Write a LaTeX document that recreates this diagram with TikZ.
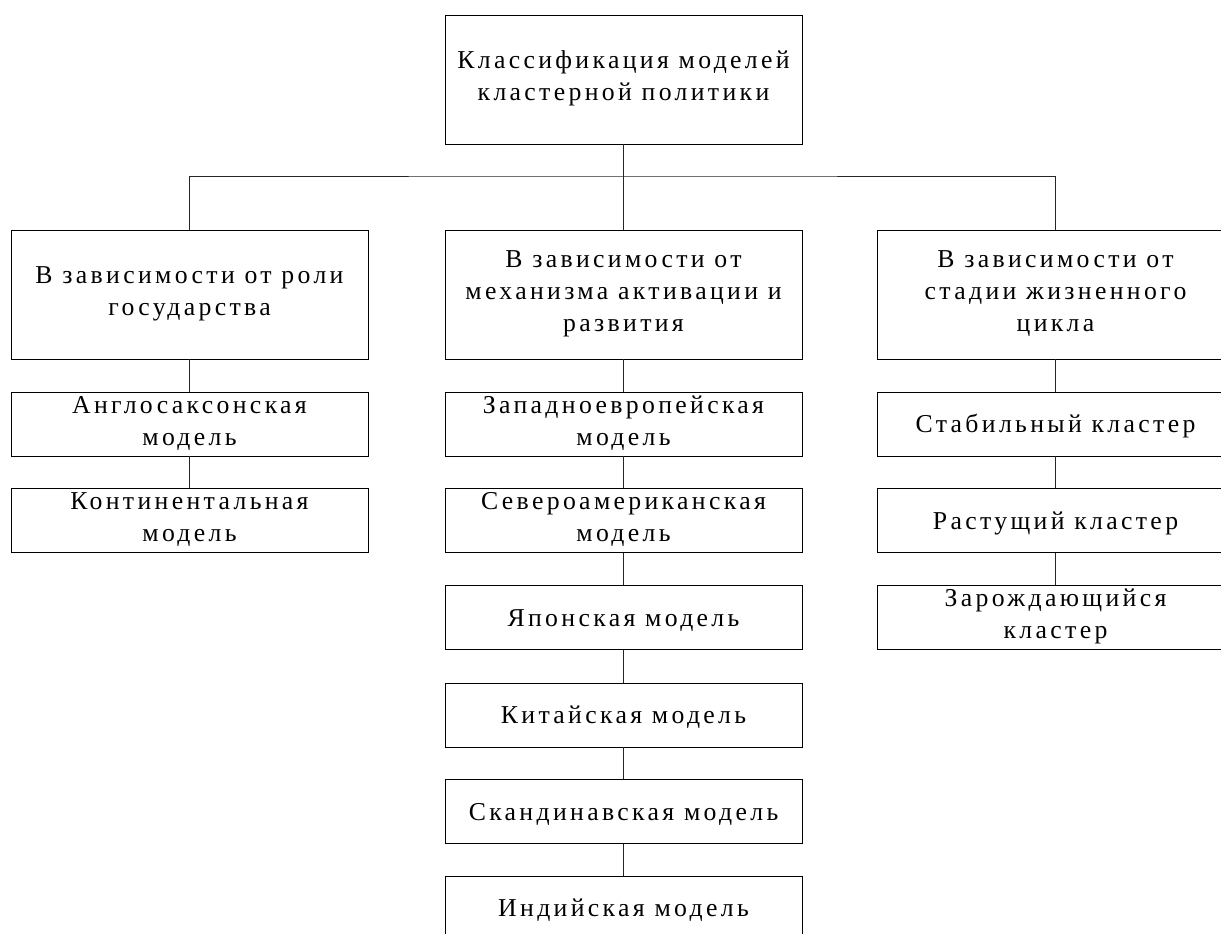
\documentclass[tikz,border=0pt]{standalone}
\usepackage{fontspec}
\setmainfont{Liberation Serif}[LetterSpace=13]
\begin{document}
\begin{tikzpicture}[x=0.75pt,y=-0.75pt,
  box/.style={draw=black, line width=0.7pt, fill=white, inner sep=0pt, align=center,
    minimum width=267.75pt, font=\fontsize{19.3}{24}\selectfont,
    execute at begin node={\rule{0pt}{18pt}},
    execute at end node={\rule[-5.25pt]{0pt}{0pt}}},
  bigbox/.style={box, minimum height=96.75pt},
  smallbox/.style={box, minimum height=48pt},
  link/.style={draw=black!85, line width=0.7pt}]
\useasboundingbox (0,0) rectangle (1221,933);
\clip (0,0) rectangle (1221,933);
\node[bigbox] (top) at (623.5,79.5) {Классификация моделей\\кластерной политики};
\node[bigbox] (L1) at (189.5,294.5) {В зависимости от роли\\государства};
\node[bigbox] (M1) at (623.5,294.5) {В зависимости от\\механизма активации и\\развития};
\node[bigbox] (R1) at (1055.5,294.5) {В зависимости от\\стадии жизненного\\цикла};
\coordinate (hub) at (623.5,176);
% left column
\node[smallbox] (L2) at (189.5,424) {Англосаксонская\\модель};
\node[smallbox] (L3) at (189.5,520.5) {Континентальная\\модель};
% middle column
\node[smallbox] (M2) at (623.5,424) {Западноевропейская\\модель};
\node[smallbox] (M3) at (623.5,520.5) {Североамериканская\\модель};
\node[smallbox] (M4) at (623.5,617.5) {Японская модель};
\node[smallbox] (M5) at (623.5,715) {Китайская модель};
\node[smallbox] (M6) at (623.5,811.5) {Скандинавская модель};
\node[smallbox] (M7) at (623.5,908) {Индийская модель};
% right column
\node[smallbox] (R2) at (1055.5,424) {Стабильный кластер};
\node[smallbox] (R3) at (1055.5,520.5) {Растущий кластер};
\node[smallbox] (R4) at (1055.5,617.5) {Зарождающийся\\кластер};
% connectors
\draw[link] (top.south) -- (M1.north);
\draw[link] (L1.north) |- (hub) -| (R1.north);
\draw[link] (L1.south) -- (L2.north);
\draw[link] (L2.south) -- (L3.north);
\draw[link] (M1.south) -- (M2.north);
\draw[link] (M2.south) -- (M3.north);
\draw[link] (M3.south) -- (M4.north);
\draw[link] (M4.south) -- (M5.north);
\draw[link] (M5.south) -- (M6.north);
\draw[link] (M6.south) -- (M7.north);
\draw[link] (R1.south) -- (R2.north);
\draw[link] (R2.south) -- (R3.north);
\draw[link] (R3.south) -- (R4.north);
\end{tikzpicture}
\end{document}
